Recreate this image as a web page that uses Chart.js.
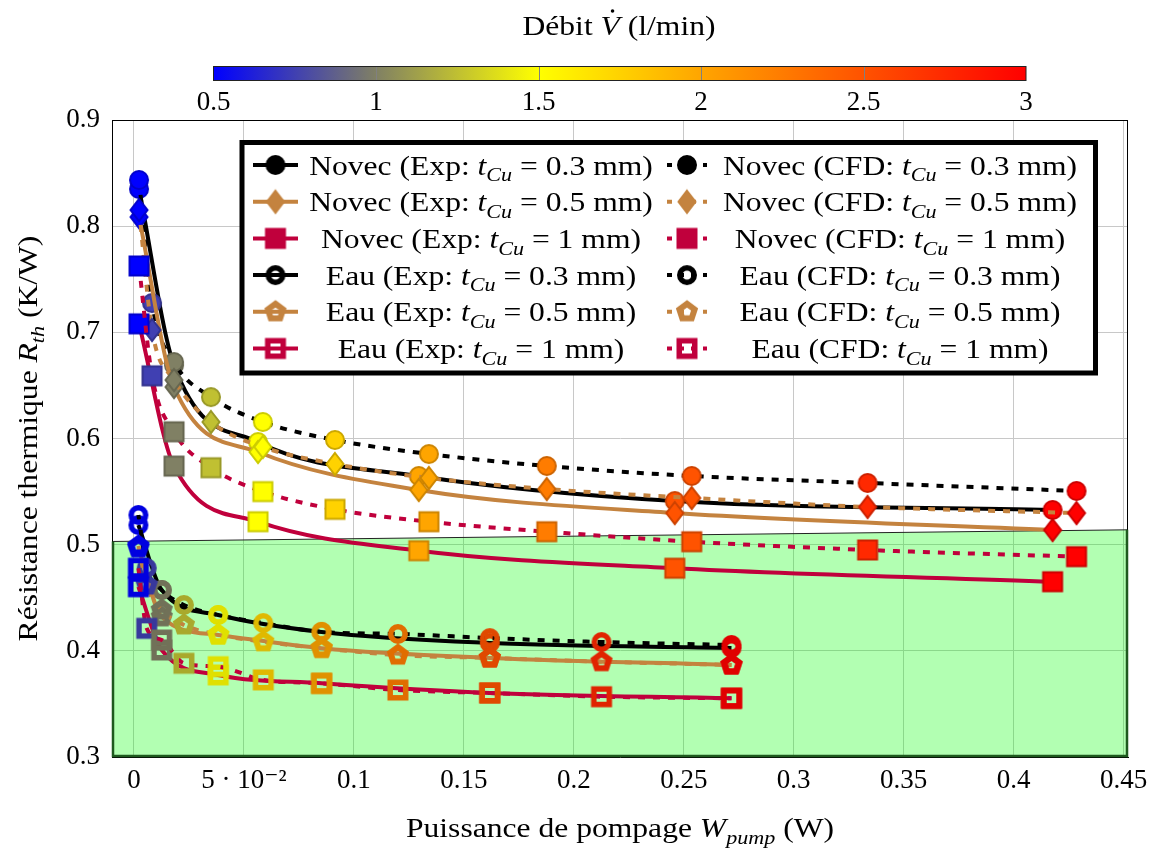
<!DOCTYPE html>
<html>
<head>
<meta charset="utf-8">
<script src="https://cdn.jsdelivr.net/npm/chart.js@4.4.0/dist/chart.umd.min.js"></script>
<style>
  body { margin: 0; background: #fff; }
  #wrap { width: 1159px; height: 849px; }
</style>
</head>
<body>
<div id="wrap"><canvas id="chart" width="1159" height="849"></canvas></div>
<script>
// flow rates (l/min) of the CFD runs and of the experiments
const flowCFD = [0.5, 0.75, 1, 1.25, 1.5, 1.75, 2, 2.25, 2.5, 2.75, 3];
const flowExp = [0.5, 1, 1.5, 2, 2.5, 3];

// pumping power W_pump (W)
const powNovecCFD = [0.0023, 0.0082, 0.0182, 0.035, 0.0586, 0.0914, 0.1341, 0.1877, 0.2536, 0.3336, 0.4286];
const powNovecExp = [0.0023, 0.0182, 0.0564, 0.1295, 0.2459, 0.4177];
const powEauCFD = [0.002, 0.0058, 0.0126, 0.0227, 0.0383, 0.0588, 0.0853, 0.12, 0.1618, 0.2126, 0.2717];
const powEauExp = [0.002, 0.0126, 0.0383, 0.0853, 0.1618, 0.2717];

// thermal resistance R_th (K/W)
const rNovecExp03 = [0.835, 0.669, 0.5967, 0.5647, 0.5411, 0.5327];
const rNovecCFD03 = [0.8435, 0.7276, 0.672, 0.639, 0.6156, 0.5986, 0.5854, 0.5741, 0.5647, 0.5581, 0.5506];
const rNovecExp05 = [0.8086, 0.6485, 0.5873, 0.5515, 0.5298, 0.5138];
const rNovecCFD05 = [0.8152, 0.7022, 0.6551, 0.6156, 0.592, 0.576, 0.5628, 0.5524, 0.544, 0.5355, 0.5298];
const rNovecExp1 = [0.708, 0.574, 0.5216, 0.4943, 0.4778, 0.4651];
const rNovecCFD1 = [0.7625, 0.659, 0.6063, 0.5725, 0.55, 0.5333, 0.5216, 0.5122, 0.5028, 0.495, 0.4887];
const rEauExp03 = [0.5185, 0.4573, 0.4338, 0.4178, 0.4074, 0.4027];
const rEauCFD03 = [0.528, 0.478, 0.4573, 0.4432, 0.4338, 0.4262, 0.4178, 0.4159, 0.412, 0.4083, 0.4055];
const rEauExp05 = [0.497, 0.432, 0.415, 0.4024, 0.3933, 0.3867];
const rEauCFD05 = [0.4988, 0.462, 0.4385, 0.4244, 0.415, 0.4086, 0.4024, 0.396, 0.3933, 0.3898, 0.3867];
const rEauExp1 = [0.4604, 0.4008, 0.3773, 0.3694, 0.3603, 0.3553];
const rEauCFD1 = [0.4778, 0.4212, 0.4102, 0.3883, 0.3851, 0.3726, 0.3694, 0.3631, 0.3603, 0.3568, 0.3553];

// green zone
const greenX = [-0.01, 0.452];
const greenY = [0.503, 0.514];

// axes
const xTicks = [0, 0.05, 0.1, 0.15, 0.2, 0.25, 0.3, 0.35, 0.4, 0.45];
const xTickLabels = ['0', '5 · 10⁻²', '0.1', '0.15', '0.2', '0.25', '0.3', '0.35', '0.4', '0.45'];
const yTicks = [0.3, 0.4, 0.5, 0.6, 0.7, 0.8, 0.9];
const yTickLabels = ['0.3', '0.4', '0.5', '0.6', '0.7', '0.8', '0.9'];

// colormap for the flow rate
const cmapPos = [0.5, 1, 1.5, 2, 3];
const cmapRGB = [[0, 0, 255], [128, 128, 100], [255, 255, 0], [255, 165, 0], [255, 0, 0]];
const cbarTicks = [0.5, 1, 1.5, 2, 2.5, 3];

const BLACK = '#000000', TAN = '#c4833f', CRIMSON = '#c0003c';
const FONT = "'Liberation Serif', 'DejaVu Serif', serif";

function cmap(v) {
  for (let i = 0; i < cmapPos.length - 1; i++) {
    if (v <= cmapPos[i + 1]) {
      const t = (v - cmapPos[i]) / (cmapPos[i + 1] - cmapPos[i]);
      const a = cmapRGB[i], b = cmapRGB[i + 1];
      return a.map((c, k) => c + (b[k] - c) * t);
    }
  }
  return cmapRGB[cmapRGB.length - 1];
}
const rgb = (c, f) => 'rgb(' + c.map(v => Math.round(v * (f || 1))).join(',') + ')';

// marker images
const markerCache = {};
function marker(shape, hollow, fill, stroke) {
  const key = [shape, hollow, fill, stroke].join('|');
  if (markerCache[key]) return markerCache[key];
  const c = document.createElement('canvas');
  c.width = c.height = 30;
  const g = c.getContext('2d');
  g.translate(15, 15);
  const lw = hollow ? (shape === 'pentagon' ? 6 : 5.5) : 2;
  g.beginPath();
  if (shape === 'circle') {
    g.arc(0, 0, 10 - lw / 2, 0, Math.PI * 2);
  } else if (shape === 'square') {
    const h = 10.5 - lw / 2;
    g.rect(-h, -h, 2 * h, 2 * h);
  } else if (shape === 'diamond') {
    const hy = 11, hx = 8.5;
    g.moveTo(0, -hy); g.lineTo(hx, 0); g.lineTo(0, hy); g.lineTo(-hx, 0);
  } else {
    const r = 11 - lw / 2;
    for (let k = 0; k < 5; k++) {
      const a = -Math.PI / 2 + k * 2 * Math.PI / 5;
      if (k === 0) g.moveTo(r * Math.cos(a), r * Math.sin(a));
      else g.lineTo(r * Math.cos(a), r * Math.sin(a));
    }
  }
  g.closePath();
  if (!hollow) { g.fillStyle = fill; g.fill(); }
  g.lineWidth = lw;
  g.strokeStyle = stroke;
  g.stroke();
  markerCache[key] = c;
  return c;
}

const series = [
  { fluid: 'Novec', kind: 'Exp', t: '0.3', x: powNovecExp, y: rNovecExp03, flow: flowExp, color: BLACK, shape: 'circle', hollow: false },
  { fluid: 'Novec', kind: 'CFD', t: '0.3', x: powNovecCFD, y: rNovecCFD03, flow: flowCFD, color: BLACK, shape: 'circle', hollow: false },
  { fluid: 'Novec', kind: 'Exp', t: '0.5', x: powNovecExp, y: rNovecExp05, flow: flowExp, color: TAN, shape: 'diamond', hollow: false },
  { fluid: 'Novec', kind: 'CFD', t: '0.5', x: powNovecCFD, y: rNovecCFD05, flow: flowCFD, color: TAN, shape: 'diamond', hollow: false },
  { fluid: 'Novec', kind: 'Exp', t: '1', x: powNovecExp, y: rNovecExp1, flow: flowExp, color: CRIMSON, shape: 'square', hollow: false },
  { fluid: 'Novec', kind: 'CFD', t: '1', x: powNovecCFD, y: rNovecCFD1, flow: flowCFD, color: CRIMSON, shape: 'square', hollow: false },
  { fluid: 'Eau', kind: 'Exp', t: '0.3', x: powEauExp, y: rEauExp03, flow: flowExp, color: BLACK, shape: 'circle', hollow: true },
  { fluid: 'Eau', kind: 'CFD', t: '0.3', x: powEauCFD, y: rEauCFD03, flow: flowCFD, color: BLACK, shape: 'circle', hollow: true },
  { fluid: 'Eau', kind: 'Exp', t: '0.5', x: powEauExp, y: rEauExp05, flow: flowExp, color: TAN, shape: 'pentagon', hollow: true },
  { fluid: 'Eau', kind: 'CFD', t: '0.5', x: powEauCFD, y: rEauCFD05, flow: flowCFD, color: TAN, shape: 'pentagon', hollow: true },
  { fluid: 'Eau', kind: 'Exp', t: '1', x: powEauExp, y: rEauExp1, flow: flowExp, color: CRIMSON, shape: 'square', hollow: true },
  { fluid: 'Eau', kind: 'CFD', t: '1', x: powEauCFD, y: rEauCFD1, flow: flowCFD, color: CRIMSON, shape: 'square', hollow: true }
];

const datasets = series.map((s, i) => ({
  label: s.fluid + ' (' + s.kind + ': tCu = ' + s.t + ' mm)',
  data: s.x.map((v, k) => ({ x: v, y: s.y[k] })),
  showLine: true,
  borderColor: s.color,
  borderWidth: 4,
  borderDash: s.kind === 'CFD' ? [7, 8] : [],
  cubicInterpolationMode: 'monotone',
  pointRadius: 10,
  pointStyle: ctx => {
    const c = cmap(s.flow[ctx.dataIndex]);
    return marker(s.shape, s.hollow, rgb(c), rgb(c, s.hollow ? 0.88 : 0.8));
  },
  order: 20 - i
}));

datasets.push({
  label: 'zone',
  data: greenX.map((v, k) => ({ x: v, y: greenY[k] })),
  showLine: true,
  fill: 'start',
  backgroundColor: 'rgba(0,255,0,0.3)',
  borderColor: '#222',
  borderWidth: 1,
  pointRadius: 0,
  order: 100
});

// text with italic / subscript pieces, stretched a bit to get the width of the LaTeX font
function richText(ctx, parts, x, y, size, align, k) {
  k = k || 1.17;
  const fontOf = p => (p[1].includes('i') ? 'italic ' : '') + (p[1].includes('s') ? size * 0.7 : size) + 'px ' + FONT;
  const widths = parts.map(p => { ctx.font = fontOf(p); return ctx.measureText(p[0]).width; });
  const total = widths.reduce((a, b) => a + b, 0);
  const x0 = align === 'center' ? x - total * k / 2 : x;
  const pos = [];
  ctx.save();
  ctx.translate(x0, y);
  ctx.scale(k, 1);
  let cx = 0;
  parts.forEach((p, i) => {
    ctx.font = fontOf(p);
    ctx.fillText(p[0], cx, p[1].includes('s') ? size * 0.25 : 0);
    pos.push(x0 + cx * k);
    cx += widths[i];
  });
  ctx.restore();
  return { pos, widths: widths.map(w => w * k) };
}

const decor = {
  id: 'decor',
  afterDatasetsDraw(chart) {
    const ctx = chart.ctx, a = chart.chartArea;
    const sy = chart.scales.y;
    ctx.save();
    ctx.strokeStyle = '#000';
    ctx.lineWidth = 1;
    ctx.strokeRect(a.left + 0.5, a.top + 0.5, a.right - a.left - 1, a.bottom - a.top - 1);
    // dark green edges of the zone
    ctx.strokeStyle = '#1e5a1e';
    ctx.lineWidth = 2.5;
    ctx.beginPath();
    ctx.moveTo(a.left + 1, sy.getPixelForValue(greenY[0]));
    ctx.lineTo(a.left + 1, a.bottom - 1);
    ctx.lineTo(a.right - 1, a.bottom - 1);
    ctx.lineTo(a.right - 1, sy.getPixelForValue(greenY[1]));
    ctx.stroke();
    ctx.restore();
  },
  afterDraw(chart) {
    const ctx = chart.ctx, a = chart.chartArea;
    ctx.save();
    ctx.fillStyle = '#000';
    ctx.textBaseline = 'alphabetic';

    // colour bar
    const cx0 = 213.5, cx1 = 1026, cy0 = 66, cy1 = 81;
    const cbx = v => cx0 + (v - cmapPos[0]) / (cmapPos[cmapPos.length - 1] - cmapPos[0]) * (cx1 - cx0);
    const grad = ctx.createLinearGradient(cx0, 0, cx1, 0);
    cmapPos.forEach((p, i) => grad.addColorStop((cbx(p) - cx0) / (cx1 - cx0), rgb(cmapRGB[i])));
    ctx.fillStyle = grad;
    ctx.fillRect(cx0, cy0, cx1 - cx0, cy1 - cy0);
    ctx.strokeStyle = '#808080';
    ctx.lineWidth = 1;
    cbarTicks.slice(1, -1).forEach(v => {
      ctx.beginPath(); ctx.moveTo(Math.round(cbx(v)) + 0.5, cy0); ctx.lineTo(Math.round(cbx(v)) + 0.5, cy1); ctx.stroke();
    });
    ctx.strokeStyle = '#222';
    ctx.strokeRect(cx0, cy0 + 0.5, cx1 - cx0, cy1 - cy0 - 1);
    ctx.fillStyle = '#000';
    ctx.font = '27px ' + FONT;
    ctx.textAlign = 'center';
    cbarTicks.forEach(v => ctx.fillText(String(v), cbx(v), 110));
    ctx.textAlign = 'left';
    const t = richText(ctx, [['Débit ', ''], ['V', 'i'], [' (l/min)', '']], 619, 35, 27, 'center');
    ctx.beginPath();
    ctx.arc(t.pos[1] + t.widths[1] * 0.62, 11, 1.8, 0, Math.PI * 2);
    ctx.fill();

    // axis titles
    richText(ctx, [['Puissance de pompage ', ''], ['W', 'i'], ['pump', 'is'], [' (W)', '']], (a.left + a.right) / 2, 837, 27, 'center');
    ctx.save();
    ctx.translate(37, (a.top + a.bottom) / 2);
    ctx.rotate(-Math.PI / 2);
    richText(ctx, [['Résistance thermique ', ''], ['R', 'i'], ['th', 'is'], [' (K/W)', '']], 0, 0, 27, 'center');
    ctx.restore();

    // legend
    const L = 242, T = 142.5, R = 1095.5, B = 373;
    ctx.fillStyle = '#fff';
    ctx.fillRect(L, T, R - L, B - T);
    ctx.strokeStyle = '#000';
    ctx.lineWidth = 5;
    ctx.strokeRect(L, T, R - L, B - T);
    const cols = [{ x0: 253, x1: 298, tx: 481 }, { x0: 667, x1: 707, tx: 900 }];
    series.forEach((s, i) => {
      const row = Math.floor(i / 2), col = cols[i % 2];
      const base = 174.5 + row * 36.7, ly = base - 9.5;
      ctx.strokeStyle = s.color;
      ctx.lineWidth = 4;
      ctx.setLineDash(s.kind === 'CFD' ? [5, 7] : []);
      ctx.beginPath(); ctx.moveTo(col.x0, ly); ctx.lineTo(col.x1, ly); ctx.stroke();
      ctx.setLineDash([]);
      const m = marker(s.shape, s.hollow, s.color, s.color);
      ctx.drawImage(m, (col.x0 + col.x1) / 2 - 15, ly - 15);
      ctx.fillStyle = '#000';
      richText(ctx, [[s.fluid + ' (' + s.kind + ': ', ''], ['t', 'i'], ['Cu', 'is'], [' = ' + s.t + ' mm)', '']], col.tx, base, 27, 'center');
    });
    ctx.restore();
  }
};

new Chart(document.getElementById('chart'), {
  type: 'scatter',
  data: { datasets },
  options: {
    responsive: false,
    animation: false,
    events: [],
    layout: { padding: { left: 0, right: 31, top: 120, bottom: 0 } },
    plugins: { legend: { display: false }, tooltip: { enabled: false } },
    scales: {
      x: {
        type: 'linear',
        min: -0.01,
        max: 0.452,
        afterFit: s => { s.height = 92; },
        afterBuildTicks: s => { s.ticks = xTicks.map(v => ({ value: v })); },
        ticks: {
          autoSkip: false,
          maxRotation: 0,
          padding: 8,
          color: '#000',
          font: { family: FONT, size: 27 },
          callback: (v, i) => xTickLabels[i]
        },
        grid: { color: '#c8c8c8', drawTicks: false },
        border: { color: '#000' }
      },
      y: {
        type: 'linear',
        min: 0.3,
        max: 0.9,
        afterFit: s => { s.width = 112; },
        afterBuildTicks: s => { s.ticks = yTicks.map(v => ({ value: v })); },
        ticks: {
          autoSkip: false,
          padding: 12,
          color: '#000',
          font: { family: FONT, size: 27 },
          callback: (v, i) => yTickLabels[i]
        },
        grid: { color: '#c8c8c8', drawTicks: false },
        border: { color: '#000' }
      }
    }
  },
  plugins: [decor]
});
</script>
</body>
</html>
